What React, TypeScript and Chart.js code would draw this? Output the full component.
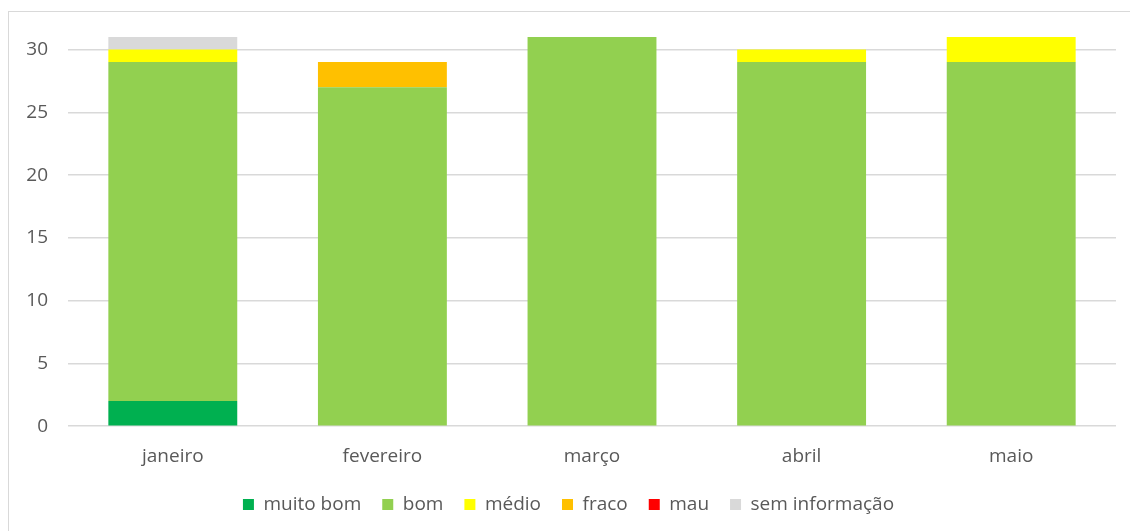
import React, { useEffect, useRef } from "react";
import { Chart, registerables } from "chart.js";

Chart.register(...registerables);

const months = ["janeiro", "fevereiro", "março", "abril", "maio"];
const muitoBom = [2, 0, 0, 0, 0];
const bom = [27, 27, 31, 29, 29];
const medio = [1, 0, 0, 1, 2];
const fraco = [0, 2, 0, 0, 0];
const mau = [0, 0, 0, 0, 0];
const semInformacao = [1, 0, 0, 0, 0];
const yTicks = [0, 5, 10, 15, 20, 25, 30];

const FONT = "'Open Sans', 'Liberation Sans', sans-serif";
const TEXT = "#595959";

export default function App() {
  const ref = useRef<HTMLCanvasElement | null>(null);
  useEffect(() => {
    if (!ref.current) return;
    const mk = (label: string, data: number[], color: string) => ({
      label,
      data,
      backgroundColor: color,
      borderWidth: 0,
      barPercentage: 0.615,
      categoryPercentage: 1,
    });
    const chart = new Chart(ref.current, {
      type: "bar",
      data: {
        labels: months,
        datasets: [
          mk("muito bom", muitoBom, "#00B050"),
          mk("bom", bom, "#92D050"),
          mk("médio", medio, "#FFFF00"),
          mk("fraco", fraco, "#FFC000"),
          mk("mau", mau, "#FF0000"),
          mk("sem informação", semInformacao, "#D9D9D9"),
        ],
      },
      options: {
        animation: false,
        responsive: false,
        maintainAspectRatio: false,
        layout: { padding: { left: 21, right: 14, top: 37, bottom: 7 } },
        plugins: {
          tooltip: { enabled: false },
          legend: {
            position: "bottom",
            labels: {
              boxWidth: 11,
              boxHeight: 11,
              padding: 21,
              color: TEXT,
              font: { family: FONT, size: 19 },
            },
          },
        },
        scales: {
          x: {
            stacked: true,
            grid: { display: false, drawTicks: false },
            border: { display: false },
            ticks: { color: TEXT, font: { family: FONT, size: 19 }, padding: 19 },
            afterFit: (scale: any) => {
              scale.height -= 13;
            },
          },
          y: {
            stacked: true,
            min: 0,
            max: 31,
            afterBuildTicks: (scale: any) => {
              scale.ticks = yTicks.map((v) => ({ value: v }));
            },
            afterFit: (scale: any) => {
              scale.width = 47;
            },
            grid: { color: "#D9D9D9", lineWidth: 1.5, drawTicks: false },
            border: { display: false },
            ticks: { color: TEXT, font: { family: FONT, size: 19 }, padding: 20 },
          },
        },
      },
    });
    return () => chart.destroy();
  }, []);
  return (
    <div style={{ position: "absolute", left: 0, top: 0, width: 1130, height: 531, overflow: "hidden", background: "#fff" }}>
      <div
        style={{
          position: "absolute",
          left: 8,
          top: 11,
          width: 1140,
          height: 540,
          border: "1px solid #D9D9D9",
          boxSizing: "border-box",
        }}
      />
      <canvas ref={ref} width={1130} height={531} style={{ position: "absolute", left: 0, top: 0 }} />
    </div>
  );
}
